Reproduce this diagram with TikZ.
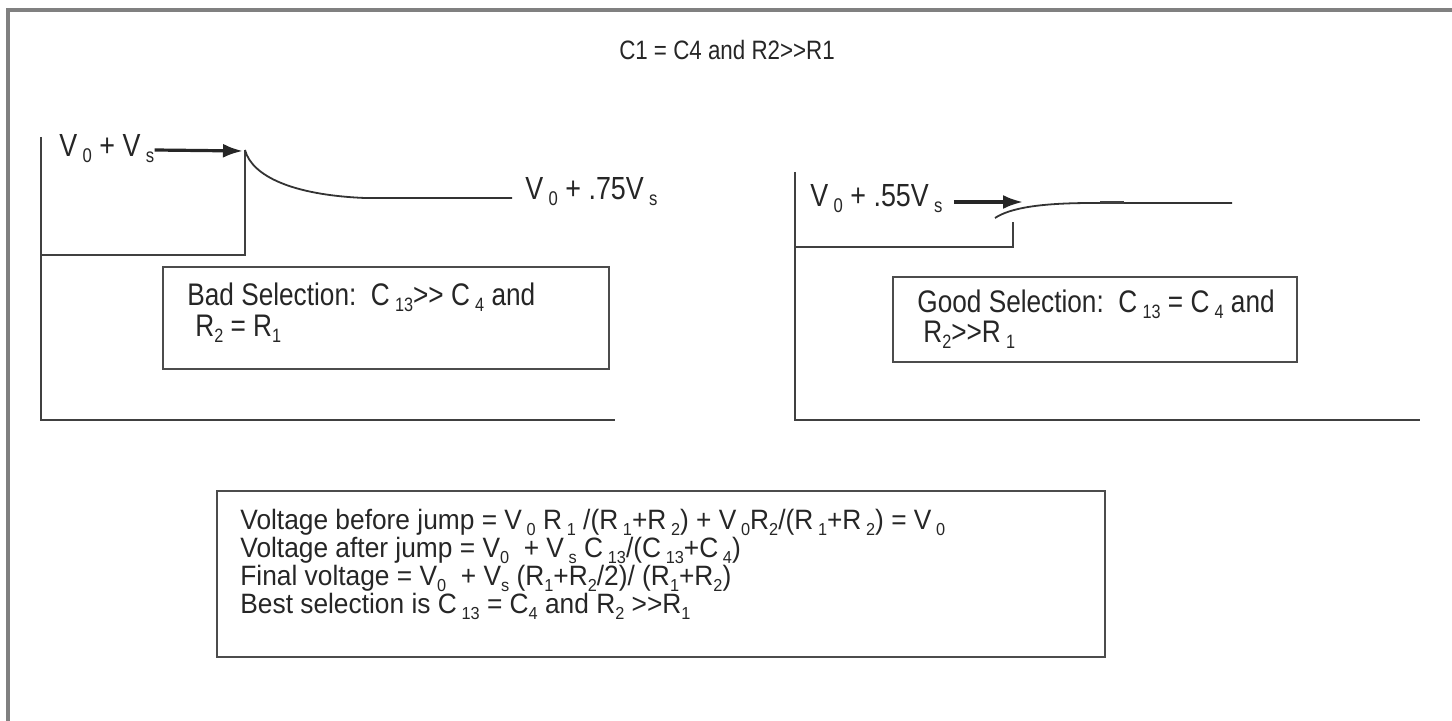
\documentclass[tikz,border=0pt]{standalone}
\usepackage{fontspec}
\setmainfont{Liberation Sans}[FakeStretch=0.84]
\newfontfamily\rulefont{Liberation Sans}[FakeStretch=0.94]
\usetikzlibrary{arrows.meta, positioning, calc}
\newcommand{\sub}[1]{\raisebox{-0.35ex}{\scalebox{0.62}{#1}}}

\begin{document}
\begin{tikzpicture}[
    x=0.5pt, y=-0.5pt,
    every node/.style={font=\fontsize{15.6}{18}\selectfont, inner sep=0pt, text=black!85},
    frame/.style={line width=2pt, gray},
    axis/.style={line width=1pt, black!75},
    trace/.style={line width=0.9pt, black!80},
    jump/.style={-{Latex[length=10pt, width=7pt]}, line width=1.6pt, black!85},
    note/.style={draw=black!70, line width=1pt},
    txt/.style={anchor=base west},
    lbl/.style={anchor=base west, font=\fontsize{16}{18}\selectfont},
    rule/.style={anchor=base west, font=\rulefont\fontsize{14}{16}\selectfont},
]
\useasboundingbox (0,0) rectangle (1452,721);

% page frame (top and left edge only)
\draw[frame] (8,721) -- (8,10) -- (1452,10);

\node[font=\fontsize{13.3}{15}\selectfont] (title) at (727,50) {C1 = C4 and R2>{}>R1};

% Left plot: bad selection
\coordinate (ljump) at (245,150);
\coordinate (lflat) at (365,198);
\draw[axis] (41,137) -- (41,420) -- (615,420);
\draw[axis] (41,255) -- (245,255) -- (ljump);
\draw[trace] (ljump) .. controls (252,176) and (292,195) .. (lflat) -- (512,198);
\node[lbl] (lhigh) at (59,157) {V\,\sub{0} + V\,\sub{s}};
\draw[jump] (lhigh.east |- ljump) -- ($(ljump)+(-2,1)$);
\node[lbl] (lfinal) at (525,200) {V\,\sub{0} + .75V\,\sub{s}};

\draw[note] (163,267) rectangle (609,369);
\node[txt] (bad1) at (187,306) {Bad Selection:\ \ C\,\sub{13}>{}> C\,\sub{4} and};
\node[txt] (bad2) at ($(bad1.base west)+(8,31)$) {R\sub{2} = R\sub{1}};

% Right plot: good selection
\coordinate (rjump) at (1023,202);
\coordinate (rflat) at (1093,203);
\draw[axis] (795,172) -- (795,420) -- (1420,420);
\draw[axis] (795,247) -- (1013,247) -- (1013,222);
\draw[trace] (995,218) .. controls (1010,208) and (1040,203) .. (rflat) -- (1232,203);
\draw[line width=1.4pt, black!75] (1100,202.5) -- (1124,202.5);
\node[lbl] (rlabel) at (810,207) {V\,\sub{0} + .55V\,\sub{s}};
\draw[jump] ($(rlabel.east |- rjump)+(11,0)$) -- (rjump);

\draw[note] (893,277) rectangle (1297,362);
\node[txt] (good1) at (917,313) {Good Selection:\ \ C\,\sub{13} = C\,\sub{4} and};
\node[txt] (good2) at ($(good1.base west)+(6,30)$) {R\sub{2}>{}>R\,\sub{1}};

% Formulas
\draw[note] (217,491) rectangle (1105,657);
\node[rule] (rule1) at (240,530) {Voltage before jump = V\,\sub{0} R\,\sub{1} /(R\,\sub{1}+R\,\sub{2}) + V\,\sub{0}R\sub{2}/(R\,\sub{1}+R\,\sub{2}) = V\,\sub{0}};
\node[rule] (rule2) at ($(rule1.base west)+(0,28)$) {Voltage after jump = V\sub{0}\ \ + V\,\sub{s} C\,\sub{13}/(C\,\sub{13}+C\,\sub{4})};
\node[rule] (rule3) at ($(rule2.base west)+(0,28)$) {Final voltage = V\sub{0}\ \ + V\sub{s} (R\sub{1}+R\sub{2}/2)/ (R\sub{1}+R\sub{2})};
\node[rule] (rule4) at ($(rule3.base west)+(0,28)$) {Best selection is C\,\sub{13} = C\sub{4} and R\sub{2} >{}>R\sub{1}};
\end{tikzpicture}
\end{document}
